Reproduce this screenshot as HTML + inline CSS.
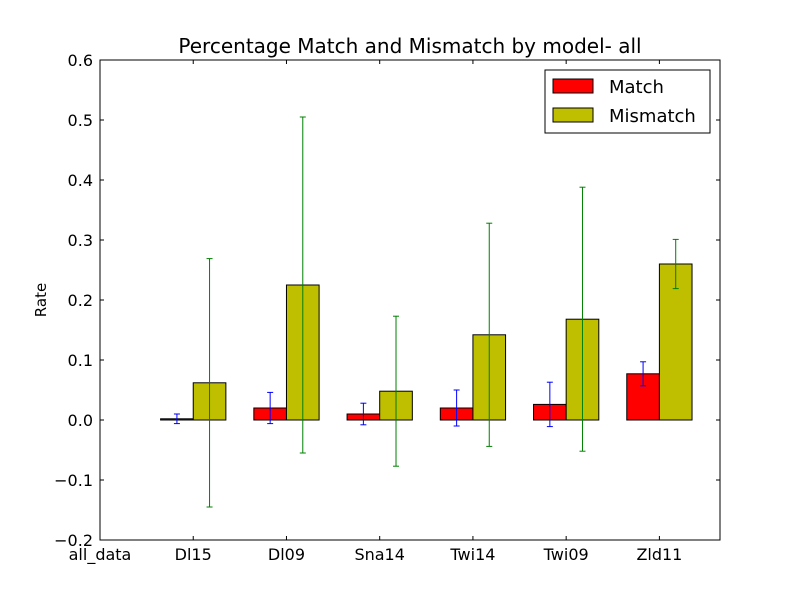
<!DOCTYPE html>
<html><head><meta charset="utf-8"><style>
html,body{margin:0;padding:0;background:#fff;}
svg{display:block;font-family:"DejaVu Sans","Liberation Sans",sans-serif;}
</style></head><body>
<svg id="chart" width="800" height="600" viewBox="0 0 800 600" xmlns="http://www.w3.org/2000/svg">
<rect x="0" y="0" width="800" height="600" fill="#fff"/>
<g id="marks"></g>
<g id="axes"></g>
</svg>
<script>
const categories = ["all_data","Dl15","Dl09","Sna14","Twi14","Twi09","Zld11"];
const matchValues = [null,0.002,0.02,0.01,0.02,0.026,0.077];
const matchErrors = [null,0.008,0.026,0.018,0.03,0.037,0.02];
const mismatchValues = [null,0.062,0.225,0.048,0.142,0.168,0.26];
const mismatchErrors = [null,0.207,0.28,0.125,0.186,0.22,0.041];
const yTicks = [-0.2,-0.1,0.0,0.1,0.2,0.3,0.4,0.5,0.6];
const yTickLabels = ["\u22120.2","\u22120.1","0.0","0.1","0.2","0.3","0.4","0.5","0.6"];

const NS="http://www.w3.org/2000/svg";
const L=100,R=720,T=60,B=540;
const xMin=0.35,xMax=7.0,yMin=-0.2,yMax=0.6,W=0.35;
const xs=v=>L+(v-xMin)/(xMax-xMin)*(R-L);
const ys=v=>B-(v-yMin)/(yMax-yMin)*(B-T);
function mk(tag,attrs,parent){const e=document.createElementNS(NS,tag);for(const k in attrs)e.setAttribute(k,attrs[k]);parent.appendChild(e);return e;}
const marks=document.getElementById('marks'),axes=document.getElementById('axes');

function errbar(cx,v,err,color,name){
  const g=mk('g',{stroke:color,'stroke-width':1},marks);
  
  
  mk('line',{x1:cx,x2:cx,y1:ys(v-err),y2:ys(v+err)},g);
  mk('line',{x1:cx-3,x2:cx+3,y1:ys(v-err),y2:ys(v-err)},g);
  mk('line',{x1:cx-3,x2:cx+3,y1:ys(v+err),y2:ys(v+err)},g);
}
for(let i=0;i<categories.length;i++){
  if(matchValues[i]===null)continue;
  const x0=xs(i),x1=xs(i+W),x2=xs(i+2*W);
  const m=matchValues[i],mm=mismatchValues[i];
  const r1=mk('rect',{x:x0,y:Math.min(ys(m),ys(0)),width:x1-x0,height:Math.abs(ys(0)-ys(m)),fill:'#ff0000',stroke:'#000','stroke-width':1},marks);
  
  
  const r2=mk('rect',{x:x1,y:Math.min(ys(mm),ys(0)),width:x2-x1,height:Math.abs(ys(0)-ys(mm)),fill:'#bfbf00',stroke:'#000','stroke-width':1},marks);
  
  
  errbar((x0+x1)/2,m,matchErrors[i],'#0000ff','errorbar-match-'+categories[i].toLowerCase());
  errbar((x1+x2)/2,mm,mismatchErrors[i],'#008000','errorbar-mismatch-'+categories[i].toLowerCase());
}
const fr=mk('rect',{x:L,y:T,width:R-L,height:B-T,fill:'none',stroke:'#000','stroke-width':1},axes);


yTicks.forEach((v,i)=>{
  const y=ys(v);
  mk('line',{x1:L,x2:L+4,y1:y,y2:y,stroke:'#000'},axes);
  mk('line',{x1:R,x2:R-4,y1:y,y2:y,stroke:'#000'},axes);
  const t=mk('text',{x:L-7,y:y+6,'text-anchor':'end','font-size':16},axes);
  t.textContent=yTickLabels[i];
  
  
});
categories.forEach((c,i)=>{
  const x=xs(i+W);
  mk('line',{x1:x,x2:x,y1:B,y2:B-4,stroke:'#000'},axes);
  mk('line',{x1:x,x2:x,y1:T,y2:T+4,stroke:'#000'},axes);
  const t=mk('text',{x:x,y:B+20,'text-anchor':'middle','font-size':16},axes);
  t.textContent=c;
  
  
});
const yl=mk('text',{x:46,y:300,'text-anchor':'middle','font-size':15,transform:'rotate(-90 46 300)'},axes);
yl.textContent='Rate';


const ti=mk('text',{x:410,y:53,'text-anchor':'middle','font-size':20},axes);
ti.textContent='Percentage Match and Mismatch by model- all';


const lg=mk('g',{},axes);


mk('rect',{x:545,y:70,width:165,height:63,fill:'#fff',stroke:'#000'},lg);
[["Match","#ff0000",79],["Mismatch","#bfbf00",108]].forEach(([n,c,y])=>{
  const e=mk('g',{},lg);
  
  
  mk('rect',{x:553,y:y,width:40,height:14,fill:c,stroke:'#000'},e);
  const t=mk('text',{x:609,y:y+14,'font-size':18},e);
  t.textContent=n;
});
</script>
</body></html>
